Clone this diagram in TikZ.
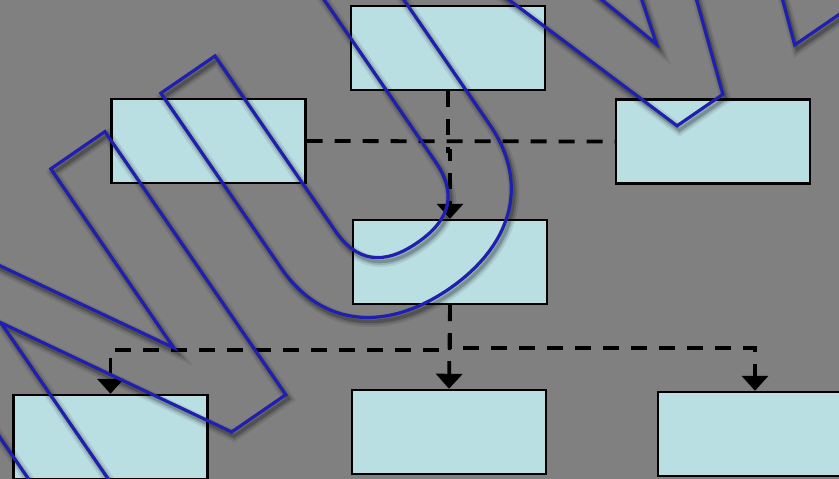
\documentclass[tikz,border=0pt]{standalone}
\usepackage{fontspec}
\newfontfamily\wmfont{TeX Gyre Heros}[Kerning=Off]
\usetikzlibrary{arrows.meta}
\definecolor{bgcol}{RGB}{128,128,128}
\definecolor{boxfill}{RGB}{186,223,227}
\definecolor{wmblue}{RGB}{32,32,176}
\newcommand\wmtext[2]{\pgfsetstrokeopacity{#2}\special{pdf:literal direct 1 Tr #1 w}{\wmfont\bfseries\fontsize{438}{438}\selectfont N\kern8pt U\kern6pt V\kern-43pt A}\special{pdf:literal direct 0 Tr}}
\begin{document}
\begin{tikzpicture}[x=1pt,y=-1pt,
  box/.style={draw=black,line width=2.4pt,fill=boxfill,minimum width=194pt,minimum height=84pt,inner sep=0pt},
  link/.style={line width=3.8pt,dash pattern=on 16pt off 12pt},
  tip/.style={-{Triangle[width=26pt,length=15pt]}},
  wm/.style={anchor=base west,rotate=34.5,inner sep=0pt,outer sep=0pt}]
\useasboundingbox (0,0) rectangle (839,479);
\fill[bgcol] (0,0) rectangle (839,479);
\clip (0,0) rectangle (839,479);
\node[box] (top) at (448,48) {};
\node[box] (left) at (208.5,141) {};
\node[box] (right) at (713,141.5) {};
\node[box] (mid) at (450,262) {};
\node[box] (bl) at (110.5,437) {};
\node[box] (bc) at (449,432) {};
\node[box] (br) at (755,434) {};
\coordinate (jl) at (450,350);
\coordinate (jr) at (450,348);
\draw[link] (left.east) -- (right.west);
\draw[link,tip] (top.south) -- ++(0,60) -| (mid.north);
\draw[link,tip] (mid.south) -- (jl) -| (bl.north);
\draw[link,tip] (mid.south) -- (bc.north);
\draw[link,tip] (mid.south) -- (jr) -| (br.north);
\begin{scope}[shift={(2.5,4)}]
  \node[wm,text=black] (sh1) at (47.2,558.7) {\wmtext{11}{0.08}};
  \node[wm,text=black] (sh2) at (47.2,558.7) {\wmtext{7}{0.12}};
  \node[wm,text=black] (sh3) at (47.2,558.7) {\wmtext{3.5}{0.2}};
\end{scope}
\node[wm,text=wmblue] (wm) at (47.2,558.7) {\wmtext{3.2}{1}};
\end{tikzpicture}
\end{document}
